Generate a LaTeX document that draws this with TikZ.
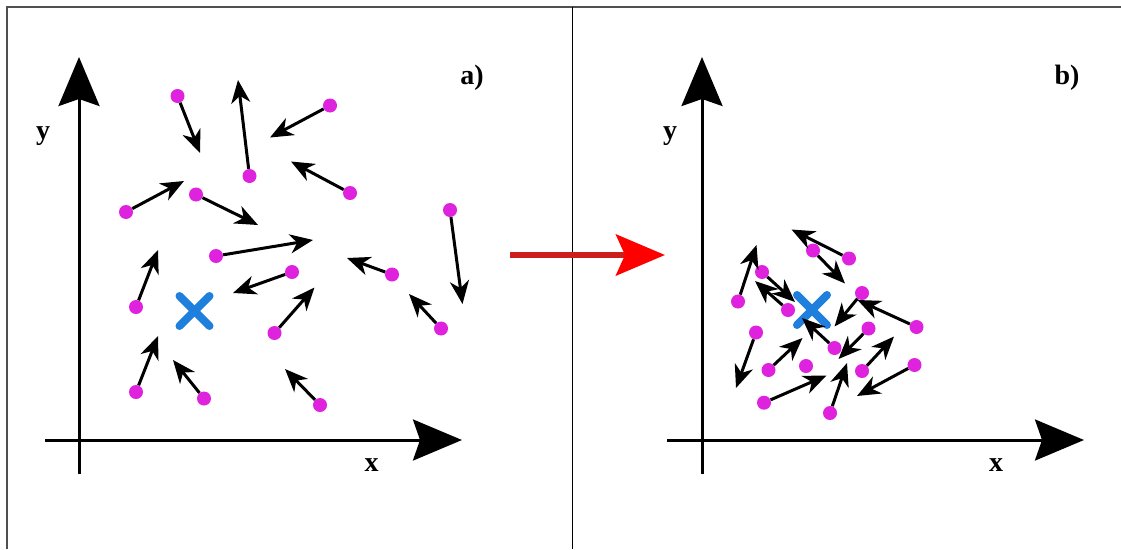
\documentclass[tikz,border=0pt]{standalone}
\usepackage{fontspec}
\setmainfont{Liberation Serif}
\usetikzlibrary{arrows.meta,calc}
\definecolor{dotmag}{RGB}{222,34,222}
\definecolor{xblue}{RGB}{30,128,220}
\definecolor{redline}{RGB}{205,30,30}
\definecolor{framegray}{RGB}{80,80,80}
\begin{document}
\begin{tikzpicture}[x=1pt,y=-1pt,
  dot/.style={circle,fill=dotmag,inner sep=0pt,minimum size=14pt},
  arr/.style={line width=3pt,black,-{Stealth[length=23pt,width=19pt,inset=7pt]}},
  axis/.style={line width=3pt,black,-{Stealth[length=49pt,width=41pt,inset=7pt]}},
  xmark/.style={line width=8pt,xblue,line cap=round},
  lab/.style={font=\fontsize{28}{30}\selectfont\bfseries,inner sep=0pt}]
\useasboundingbox (0,0) rectangle (1121,549);
% frame
\draw[framegray,line width=1.5pt] (7,549) -- (7,7) -- (1121,7);
\draw[black,line width=1.3pt] (572.5,7) -- (572.5,549);
% axes left
\coordinate (lyb) at (79,474); \coordinate (lyt) at (79,57);
\coordinate (lxl) at (45,440); \coordinate (lxr) at (462,440);
\draw[axis] (lyb) -- (lyt);
\draw[axis] (lxl) -- (lxr);
% axes right
\coordinate (ryb) at (702,474); \coordinate (ryt) at (702,57);
\coordinate (rxl) at (667,440); \coordinate (rxr) at (1084,440);
\draw[axis] (ryb) -- (ryt);
\draw[axis] (rxl) -- (rxr);
% labels
\node[lab] (ly) at (43,136) {y};
\node[lab] (lx) at (371.5,465) {x};
\node[lab] (la) at (472,77.5) {a)};
\node[lab] (ry) at (670,136) {y};
\node[lab] (rx) at (996,465) {x};
\node[lab] (rb) at (1067,77.5) {b)};
% red arrow
\coordinate (rs) at (510,255); \coordinate (re) at (665,255);
\draw[redline,line width=6pt,-{Stealth[length=49pt,width=41pt,inset=9pt,red]}] (rs) -- (re);
% blue crosses
\coordinate (lc) at (194.5,311);
\draw[xmark] ($(lc)+(-15,-15)$) -- ($(lc)+(15,15)$);
\draw[xmark] ($(lc)+(-15,15)$) -- ($(lc)+(15,-15)$);
\coordinate (rc) at (812,310);
\draw[xmark] ($(rc)+(-15,-15)$) -- ($(rc)+(15,15)$);
\draw[xmark] ($(rc)+(-15,15)$) -- ($(rc)+(15,-15)$);
% left dots
\foreach \n/\x/\y in {L1/177.5/96,L2/249.5/176,L3/330/105.5,L4/350/193,L5/126/212,L6/196/194.5,L7/216/256,L8/292/272,L9/392/274.5,L10/450/210,L11/441/328.5,L12/136/307,L13/274.5/333,L14/136/392,L15/204/398.5,L16/320/405}
  \node[dot] (\n) at (\x,\y) {};
% right dots
\foreach \n/\x/\y in {Ra/813/250.5,Rb/849/258.5,Rc/762/272,Rd/738/301.5,Re/788/310,Rf/862/293,Rg/916.5/327,Rh/868.5/328.5,Ri/756/332.5,Rj/834.5/348,Rk/768.5/370,Rl/806/366,Rm/862/371,Rn/914.5/365,Ro/764/402.7,Rp/830/413}
  \node[dot] (\n) at (\x,\y) {};
% arrows
\foreach \n/\x/\y in {L1/200/153,L2/238/80,L3/270/137.5,L4/291/161.5,L5/184/181,L6/258/225,L7/313/240,L8/233/293,L9/347/258,L10/462.5/304,L11/409/294,L12/158/250,L13/314.5/287.5,L14/158/336,L15/173/360,L16/285/369,
  Ra/845/283.5,Rb/791.5/229.5,Rc/795/302,Rd/756.5/245,Re/755/281,Rf/834.5/326.5,Rg/857.5/300,Rh/838.5/359,Ri/736/388,Rj/802/318,Rk/802.5/338,Rm/894/336.5,Rn/857/396,Ro/826.5/375.5,Rp/847/363}
  {\coordinate (\n t) at (\x,\y);
   \draw[arr] (\n) -- (\n t);}
\end{tikzpicture}
\end{document}
